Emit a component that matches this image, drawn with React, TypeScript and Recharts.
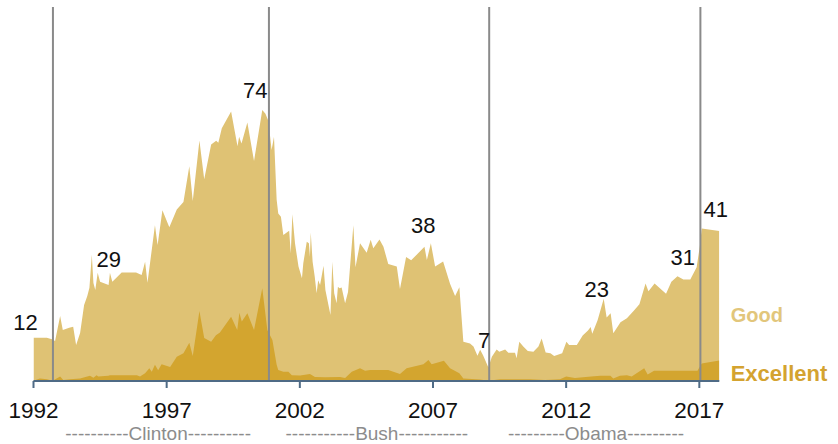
import React from 'react';
import {
    ComposedChart,
    Area,
    XAxis,
    YAxis,
    ReferenceLine,
    ReferenceDot,
} from 'recharts';

// Share rating the economy excellent or good (total), by survey date
const totalYears = [
    1992.0, 1992.5, 1992.72, 1992.81, 1993.0, 1993.1, 1993.34, 1993.49, 1993.6, 1993.75,
    1993.9, 1994.02, 1994.1, 1994.19, 1994.25, 1994.32, 1994.41, 1994.5, 1994.82, 1994.87,
    1994.96, 1995.31, 1995.85, 1996.06, 1996.19, 1996.28, 1996.56, 1996.66, 1996.84, 1997.1,
    1997.38, 1997.63, 1997.85, 1997.98, 1998.23, 1998.41, 1998.67, 1998.86, 1998.94, 1999.07,
    1999.42, 1999.66, 1999.72, 1999.81, 2000.03, 2000.28, 2000.59, 2000.71, 2000.82, 2000.94,
    2001.03, 2001.13, 2001.19, 2001.29, 2001.38, 2001.6, 2001.66, 2001.72, 2001.82, 2001.95,
    2002.08, 2002.13, 2002.26, 2002.34, 2002.38, 2002.41, 2002.48, 2002.56, 2002.63, 2002.69,
    2002.76, 2002.89, 2002.96, 2003.15, 2003.22, 2003.29, 2003.38, 2003.43, 2003.49, 2003.57,
    2003.7, 2003.81, 2004.01, 2004.09, 2004.26, 2004.51, 2004.66, 2004.76, 2004.99, 2005.14,
    2005.32, 2005.64, 2005.76, 2005.99, 2006.18, 2006.68, 2006.77, 2006.92, 2007.08, 2007.38,
    2007.64, 2007.83, 2007.99, 2008.14, 2008.39, 2008.52, 2008.67, 2008.77, 2008.88, 2009.08,
    2009.21, 2009.39, 2009.49, 2009.71, 2009.83, 2010.08, 2010.14, 2010.24, 2010.39, 2010.56,
    2010.77, 2010.96, 2011.08, 2011.23, 2011.41, 2011.55, 2011.85, 2012.01, 2012.11, 2012.4,
    2012.62, 2012.82, 2012.92, 2012.98, 2013.18, 2013.41, 2013.52, 2013.67, 2013.77, 2014.04,
    2014.28, 2014.53, 2014.75, 2014.98, 2015.09, 2015.32, 2015.75, 2015.95, 2016.18, 2016.4,
    2016.66, 2016.9, 2017.02, 2017.09, 2017.75,
];
const totalValues = [
    11.8, 11.8, 11.3, 10.9, 17.7, 13.9, 14.5, 14.8, 9.8, 13.1,
    20.7, 23.2, 25.4, 34.4, 26.7, 24.8, 29.5, 27.1, 26.2, 29.5,
    27.1, 29.6, 29.6, 28.9, 32.5, 26.8, 42.5, 37.1, 46.6, 41.9,
    46.8, 48.8, 58.6, 49.1, 65.6, 55.0, 64.5, 65.5, 65.0, 68.9,
    73.5, 64.0, 66.6, 64.8, 70.5, 60.0, 73.9, 72.9, 70.9, 63.0,
    66.6, 49.4, 45.7, 44.8, 39.8, 41.0, 34.8, 45.5, 37.5, 31.2,
    28.0, 32.1, 38.0, 37.6, 33.9, 40.5, 32.5, 28.4, 23.9, 27.5,
    26.2, 31.4, 24.8, 18.0, 32.5, 23.9, 21.2, 25.7, 25.3, 25.5,
    21.2, 24.3, 42.5, 31.0, 37.6, 35.0, 38.5, 36.2, 38.6, 36.6,
    31.9, 31.2, 25.1, 33.8, 32.9, 36.6, 33.0, 37.6, 31.2, 32.6,
    26.5, 23.2, 25.6, 10.7, 10.2, 9.4, 6.9, 8.5, 7.0, 3.7,
    6.6, 8.6, 8.0, 8.6, 7.7, 7.7, 6.2, 10.7, 9.4, 8.2,
    8.0, 9.4, 11.6, 7.8, 7.6, 6.8, 7.6, 10.7, 9.8, 9.8,
    12.4, 13.8, 14.7, 12.9, 16.6, 22.4, 17.3, 18.5, 13.0, 16.0,
    17.1, 19.1, 20.9, 26.6, 24.5, 26.6, 23.8, 27.1, 28.6, 27.7,
    27.7, 31.0, 36.8, 41.6, 40.9,
];

// Share rating the economy excellent
const excellentYears = [
    1992.0, 1992.24, 1992.5, 1992.72, 1993.0, 1993.12, 1993.37, 1993.75, 1994.12, 1994.25,
    1994.37, 1994.43, 1994.81, 1994.87, 1995.88, 1996.0, 1996.19, 1996.35, 1996.44, 1996.56,
    1996.68, 1996.81, 1997.13, 1997.38, 1997.63, 1997.85, 1997.98, 1998.23, 1998.41, 1998.67,
    1998.85, 1999.0, 1999.42, 1999.65, 1999.73, 1999.82, 2000.03, 2000.28, 2000.59, 2000.78,
    2000.97, 2001.13, 2001.19, 2001.38, 2001.57, 2001.7, 2002.01, 2002.38, 2002.57, 2002.95,
    2003.51, 2003.7, 2003.95, 2004.26, 2004.45, 2004.64, 2005.32, 2005.76, 2006.01, 2006.64,
    2006.83, 2006.95, 2007.41, 2007.64, 2007.99, 2008.14, 2008.77, 2009.08, 2009.52, 2010.65,
    2011.21, 2011.77, 2012.0, 2012.33, 2012.94, 2013.28, 2013.66, 2013.77, 2014.02, 2014.28,
    2014.46, 2014.93, 2015.06, 2015.3, 2016.93, 2017.09, 2017.75,
];
const excellentValues = [
    0.1, 0.7, 0.5, 0.1, 1.2, 0.3, 0.5, 0.7, 1.4, 0.9,
    1.6, 1.2, 1.4, 1.6, 1.6, 1.2, 2.1, 3.5, 2.5, 4.4,
    2.9, 4.6, 3.8, 6.6, 7.6, 10.4, 6.8, 19.1, 11.7, 10.7,
    12.5, 13.2, 17.5, 13.9, 18.6, 16.2, 18.5, 13.9, 25.3, 13.9,
    11.2, 4.4, 3.0, 2.5, 2.5, 1.6, 1.5, 1.9, 1.1, 1.0,
    1.1, 0.8, 2.5, 3.5, 2.8, 3.0, 3.0, 1.9, 3.5, 4.6,
    5.7, 4.6, 5.5, 3.5, 2.1, 0.7, 0.4, 0.1, 0.5, 0.5,
    0.3, 0.5, 1.2, 0.8, 1.2, 1.4, 1.4, 0.7, 1.4, 1.6,
    1.2, 3.5, 1.8, 2.8, 2.8, 4.8, 5.6,
];

const yearTicks = [1992, 1997, 2002, 2007, 2012, 2017];

// Start of each presidency
const inaugurations = [1992.73, 2000.84, 2009.11, 2017.04];

// President names under the axis, centred on each term
const presidentYears = [1996.68, 2004.89, 2013.12];
const presidentNames = ['----------Clinton----------', '-----------Bush-----------', '---------Obama---------'];

// Callout values
const calloutYears = [1992.0, 1994.41, 2000.59, 2006.92, 2008.88, 2013.41, 2016.9, 2017.09];
const calloutValues = [11.8, 29.5, 73.9, 37.6, 7.0, 22.4, 31.0, 41.6];
const calloutTexts = ['12', '29', '74', '38', '7', '23', '31', '41'];
const calloutOffsets = [[-8, -7.5], [11, -6], [-7, -12], [-7.5, -10], [1, -7], [-7, -2], [-14, -2.5], [14, -11.5]];

const totalData = totalYears.map((year, i) => ({ year, value: totalValues[i] }));
const excellentData = excellentYears.map((year, i) => ({ year, value: excellentValues[i] }));

const FONT = '"Liberation Sans", Arial, sans-serif';
const GOOD = '#DFC274';
const EXCELLENT = '#D3A52F';

const textAt = (text: string, dx: number, dy: number, style: any) => (props: any) => {
    const vb = props.viewBox || {};
    return (
        <text x={vb.x + dx} y={vb.y + dy} fontFamily={FONT} {...style}>
            {text}
        </text>
    );
};

const App = () => {
    const lastYear = totalYears[totalYears.length - 1];
    return (
        <div style={{ position: 'absolute', left: 0, top: 0, background: '#fff' }}>
            <ComposedChart
                width={838}
                height={444}
                margin={{ top: 7, right: 118.7, bottom: 33, left: 33.5 }}
            >
                <XAxis
                    type="number"
                    dataKey="year"
                    domain={[1992, lastYear]}
                    ticks={yearTicks}
                    allowDataOverflow
                    height={30}
                    axisLine={{ stroke: '#4f6b86', strokeWidth: 2 }}
                    tickLine={{ stroke: '#4f6b86', strokeWidth: 2 }}
                    tickSize={7}
                    tickMargin={14}
                    tick={{ fill: '#111', fontSize: 22.5, fontFamily: FONT }}
                />
                <YAxis hide type="number" domain={[0, 102]} allowDataOverflow />
                <Area
                    data={totalData}
                    type="linear"
                    dataKey="value"
                    stroke="none"
                    fill={GOOD}
                    fillOpacity={1}
                    isAnimationActive={false}
                />
                <Area
                    data={excellentData}
                    type="linear"
                    dataKey="value"
                    stroke="none"
                    fill={EXCELLENT}
                    fillOpacity={1}
                    isAnimationActive={false}
                />
                {inaugurations.map((x) => (
                    <ReferenceLine key={`inaug-${x}`} x={x} stroke="#8a8a8a" strokeWidth={2} />
                ))}
                {calloutYears.map((x, i) => (
                    <ReferenceDot
                        key={`callout-${i}`}
                        x={x}
                        y={calloutValues[i]}
                        r={0}
                        fill="none"
                        stroke="none"
                        label={{
                            content: textAt(calloutTexts[i], calloutOffsets[i][0], calloutOffsets[i][1], {
                                fontSize: 22,
                                fill: '#111',
                                textAnchor: 'middle',
                            }),
                        }}
                    />
                ))}
                {presidentYears.map((x, i) => (
                    <ReferenceDot
                        key={`pres-${i}`}
                        x={x}
                        y={0}
                        r={0}
                        fill="none"
                        stroke="none"
                        label={{
                            content: textAt(presidentNames[i], 0, 59, {
                                fontSize: 19,
                                fill: '#8c8c8c',
                                textAnchor: 'middle',
                            }),
                        }}
                    />
                ))}
                <ReferenceDot
                    x={lastYear}
                    y={0}
                    r={0}
                    fill="none"
                    stroke="none"
                    label={{
                        content: textAt('Good', 11.4, -59.3, {
                            fontSize: 20,
                            fontWeight: 'bold',
                            fill: '#E2C67B',
                            textAnchor: 'start',
                        }),
                    }}
                />
                <ReferenceDot
                    x={lastYear}
                    y={0}
                    r={0}
                    fill="none"
                    stroke="none"
                    label={{
                        content: textAt('Excellent', 11.4, 0, {
                            fontSize: 22,
                            fontWeight: 'bold',
                            fill: '#D4A330',
                            textAnchor: 'start',
                        }),
                    }}
                />
            </ComposedChart>
        </div>
    );
};

export default App;
